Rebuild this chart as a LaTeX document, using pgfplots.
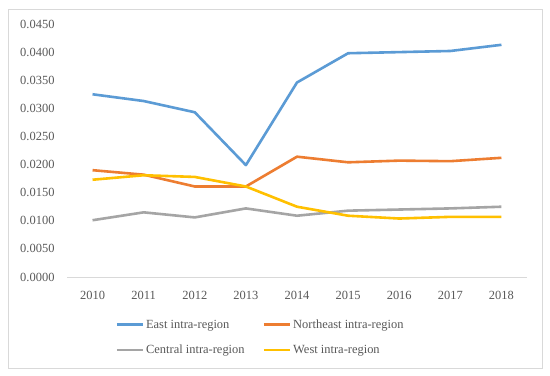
\documentclass[border=0pt]{standalone}
\usepackage{fontspec}
\setmainfont{Liberation Serif}
\usepackage{pgfplots}
\pgfplotsset{compat=1.18}
\definecolor{cEast}{HTML}{5B9BD5}
\definecolor{cNE}{HTML}{ED7D31}
\definecolor{cCen}{HTML}{A5A5A5}
\definecolor{cWest}{HTML}{FFC000}
\definecolor{tick}{HTML}{595959}
\definecolor{frame}{HTML}{D9D9D9}
\begin{document}
\begin{tikzpicture}[x=1bp,y=1bp]
\useasboundingbox (0,0) rectangle (550,375);
\fill[white] (0,0) rectangle (550,375);
\draw[frame, line width=0.75bp] (8,7) rectangle (542,366);
\begin{axis}[
  at={(67bp,98bp)}, anchor=south west,
  scale only axis, width=460bp, height=253bp,
  xmin=2009.5, xmax=2018.5,
  ymin=0, ymax=0.045,
  xtick={2010,2011,2012,2013,2014,2015,2016,2017,2018},
  ytick={0,0.005,0.010,0.015,0.020,0.025,0.030,0.035,0.040,0.045},
  scaled y ticks=false,
  y tick label style={/pgf/number format/fixed, /pgf/number format/fixed zerofill, /pgf/number format/precision=4, /pgf/number format/assume math mode=true},
  x tick label style={/pgf/number format/1000 sep={}, /pgf/number format/assume math mode=true},
  ticklabel style={font=\fontsize{12.5}{14}\selectfont, text=tick},
  major tick length=0pt,
  separate axis lines,
  axis x line*=bottom,
  axis y line*=left,
  y axis line style={draw=none},
  x axis line style={draw=frame, line width=0.75bp, -},
  xticklabel shift=11bp,
  yticklabel shift=9bp,
  legend columns=2,
  legend cell align=left,
  legend style={at={(0.105,-0.16)}, anchor=north west, draw=none, fill=none,
    font=\fontsize{12.5}{14}\selectfont, text=tick,
    /tikz/every even column/.append style={column sep=16bp},
    row sep=11bp, inner sep=0pt},
  legend image code/.code={\draw[#1, line width=2.6bp] (0bp,0bp) -- (26bp,0bp);},
  every axis plot/.append style={line width=2.6bp, line join=round},
]
\addplot[cEast] coordinates {(2010,0.0325) (2011,0.0313) (2012,0.0293) (2013,0.0199) (2014,0.0346) (2015,0.0398) (2016,0.0400) (2017,0.0402) (2018,0.0413)};
\addlegendentry{East intra-region}
\addplot[cNE] coordinates {(2010,0.0190) (2011,0.0182) (2012,0.0161) (2013,0.0161) (2014,0.0214) (2015,0.0204) (2016,0.0207) (2017,0.0206) (2018,0.0212)};
\addlegendentry{Northeast intra-region}
\addplot[cCen] coordinates {(2010,0.0101) (2011,0.0115) (2012,0.0106) (2013,0.0122) (2014,0.0109) (2015,0.0118) (2016,0.0120) (2017,0.0122) (2018,0.0125)};
\addlegendentry{Central intra-region}
\addplot[cWest] coordinates {(2010,0.0173) (2011,0.0181) (2012,0.0178) (2013,0.0161) (2014,0.0125) (2015,0.0109) (2016,0.0104) (2017,0.0107) (2018,0.0107)};
\addlegendentry{West intra-region}
\end{axis}
\end{tikzpicture}
\end{document}
